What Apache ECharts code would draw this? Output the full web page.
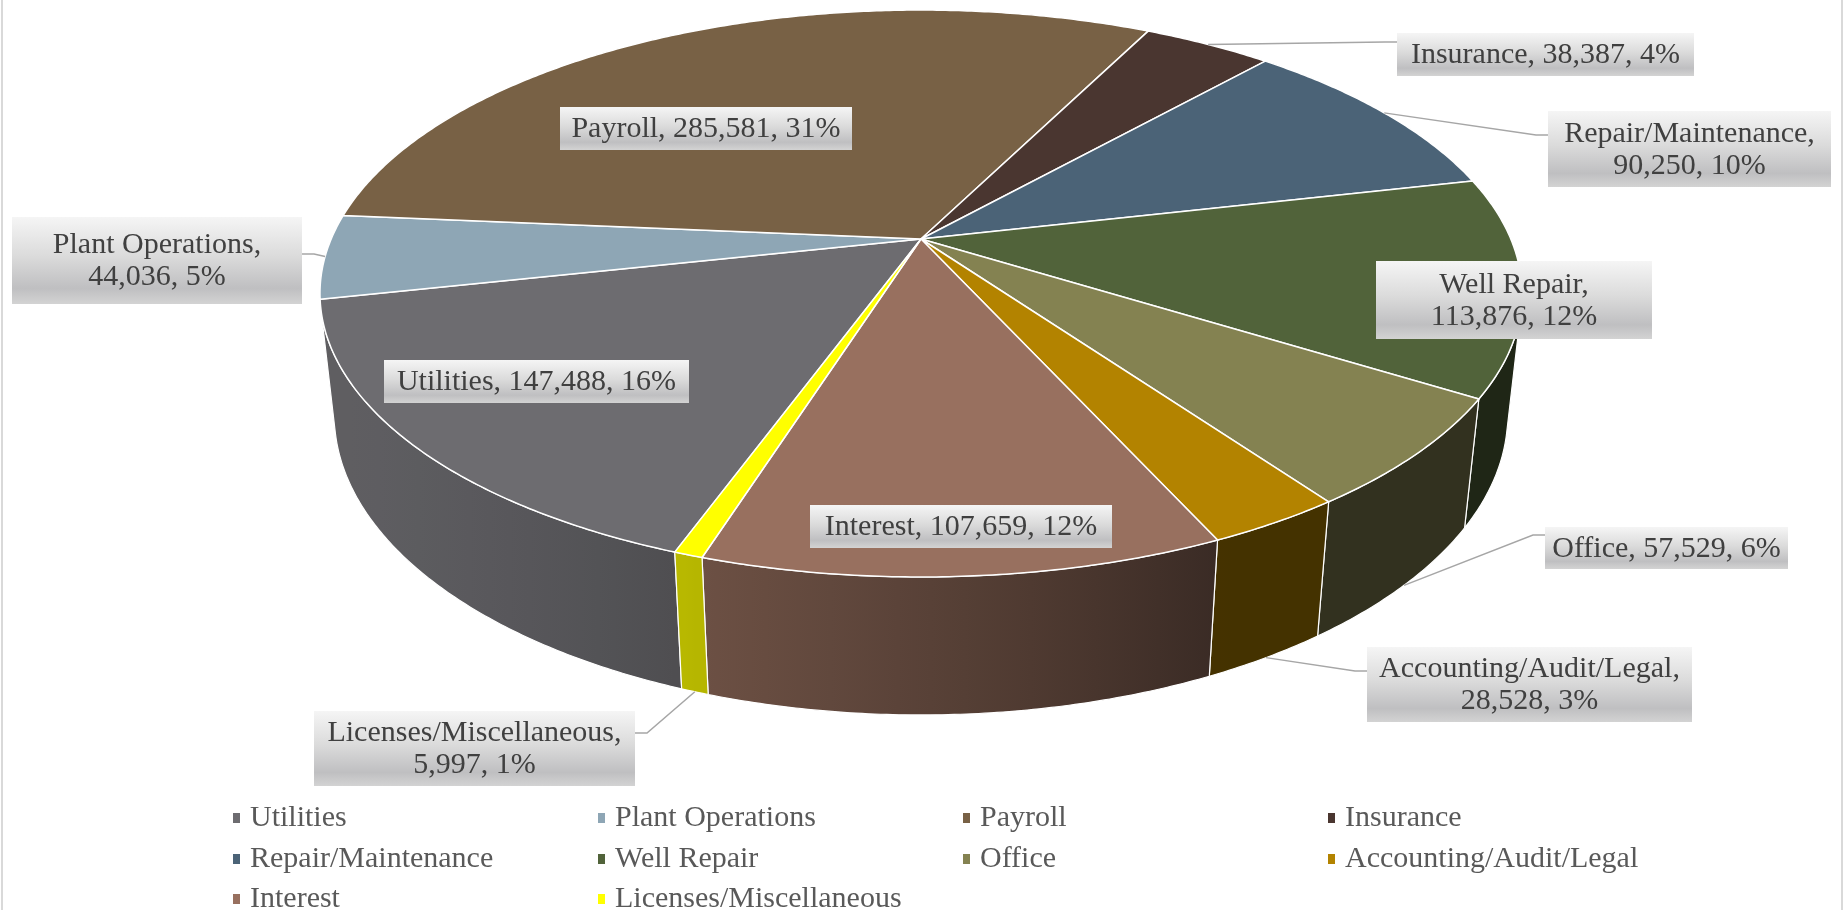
<!DOCTYPE html>
<html>
<head>
<meta charset="utf-8">
<script src="https://cdn.jsdelivr.net/npm/echarts@6.0.0/dist/echarts.min.js"></script>
<style>
  body { margin: 0; background: #fff; }
  #main { width: 1845px; height: 910px; }
</style>
</head>
<body>
<div id="main"></div>
<script>
// data
const categories = ["Utilities", "Plant Operations", "Payroll", "Insurance", "Repair/Maintenance",
  "Well Repair", "Office", "Accounting/Audit/Legal", "Interest", "Licenses/Miscellaneous"];
const values = [147488, 44036, 285581, 38387, 90250, 113876, 57529, 28528, 107659, 5997];
const colors = ["#6d6c70", "#8ea6b5", "#786145", "#4a3630", "#4b6377",
  "#51633a", "#848251", "#b38300", "#98705f", "#ffff00"];

// 3d view of the pie (perspective camera)
const view = { cx: 921, cy: 239, f: 2719, d: 4.61, tilt: 27.57, depth: 0.2346, start: 200 };
const fontFamily = "Liberation Serif";

// label boxes, like excel's moved data labels
const labelLayout = {
  "Utilities": { x: 384, y: 360, w: 305, h: 43 },
  "Plant Operations": { x: 12, y: 217, w: 290, h: 87, two: true, side: "right", ly: 254 },
  "Payroll": { x: 560, y: 107, w: 292, h: 43 },
  "Insurance": { x: 1397, y: 33, w: 297, h: 43, side: "left", ly: 42 },
  "Repair/Maintenance": { x: 1548, y: 111, w: 283, h: 76, two: true, side: "left", ly: 135 },
  "Well Repair": { x: 1376, y: 261, w: 276, h: 78, two: true },
  "Office": { x: 1545, y: 527, w: 243, h: 42, side: "left", ly: 535 },
  "Accounting/Audit/Legal": { x: 1367, y: 647, w: 325, h: 75, two: true, side: "left", ly: 671 },
  "Interest": { x: 810, y: 505, w: 302, h: 43 },
  "Licenses/Miscellaneous": { x: 314, y: 711, w: 321, h: 75, two: true, side: "right", ly: 733 },
};
// legend grid: 4 columns, 3 rows
const legendCols = [228, 593, 958, 1323];
const legendRows = [798, 839, 879];

const rad = Math.PI / 180;
const sinT = Math.sin(view.tilt * rad);
const cosT = Math.cos(view.tilt * rad);

function proj(theta, r, y) {
  let t = theta * rad;
  let x = r * Math.sin(t);
  let z = r * Math.cos(t);
  let v = z * sinT + y * cosT;
  let w = view.d + z * cosT - y * sinT;
  return [view.cx + view.f * x / w, view.cy - view.f * v / w];
}

const total = values.reduce((a, b) => a + b, 0);
let slices = [];
let acc = view.start;
for (let i = 0; i < values.length; i++) {
  let span = values[i] / total * 360;
  slices.push({ a: acc, b: acc + span });
  acc += span;
}

function shade(hex, k) {
  let n = parseInt(hex.slice(1), 16);
  let r = Math.round(((n >> 16) & 255) * k);
  let g = Math.round(((n >> 8) & 255) * k);
  let b = Math.round((n & 255) * k);
  return "rgb(" + r + "," + g + "," + b + ")";
}

function light(theta) {
  return 0.38 + 0.49 * Math.max(0, Math.cos((theta - 245) * rad));
}

// visible part of the side wall
const visA = Math.acos(-1 / (view.d * cosT)) / rad;
const visB = 360 - visA;

function renderTop(i) {
  return function () {
    let s = slices[i];
    let pts = [proj(0, 0, 0)];
    let n = Math.max(4, Math.ceil((s.b - s.a) / 0.5));
    for (let k = 0; k <= n; k++) {
      pts.push(proj(s.a + (s.b - s.a) * k / n, 1, 0));
    }
    return {
      type: "polygon",
      shape: { points: pts },
      style: { fill: colors[i], stroke: "#ffffff", lineWidth: 1.5, lineJoin: "round" },
    };
  };
}

function renderWall(params) {
  let i = params.dataIndex;
  let s = slices[i];
  let children = [];
  for (let shift of [0, -360]) {
    let lo = Math.max(s.a + shift, visA);
    let hi = Math.min(s.b + shift, visB);
    if (hi <= lo) continue;
    let n = Math.max(2, Math.ceil((hi - lo) / 0.5));
    let top = [];
    let bottom = [];
    for (let k = 0; k <= n; k++) {
      let t = lo + (hi - lo) * k / n;
      top.push(proj(t, 1, 0));
      bottom.push(proj(t, 1, -view.depth));
    }
    let pts = top.concat(bottom.reverse());
    let xr = proj(lo, 1, 0)[0];
    let xl = proj(hi, 1, 0)[0];
    let stops = [];
    let m = 8;
    for (let k = 0; k <= m; k++) {
      let t = hi - (hi - lo) * k / m;
      let x = proj(t, 1, 0)[0];
      let off = xr > xl ? (x - xl) / (xr - xl) : 0;
      stops.push({ offset: Math.min(1, Math.max(0, off)), color: shade(colors[i], light(t)) });
    }
    stops.sort((p, q) => p.offset - q.offset);
    children.push({
      type: "polygon",
      shape: { points: pts },
      style: {
        fill: new echarts.graphic.LinearGradient(xl, 0, xr, 0, stops, true),
        stroke: "#ffffff",
        lineWidth: 1.2,
        lineJoin: "round",
      },
    });
  }
  return { type: "group", children: children };
}

function fmt(v) {
  return v.toLocaleString("en-US");
}

function renderLabel(params, api) {
  let i = params.dataIndex;
  let name = categories[i];
  let box = labelLayout[name];
  let val = api.value(0);
  let pct = Math.round(val / total * 100);
  let text = box.two ? name + ",\n" + fmt(val) + ", " + pct + "%" : name + ", " + fmt(val) + ", " + pct + "%";
  let children = [];
  if (box.side) {
    let s = slices[i];
    let mid = (s.a + s.b) / 2;
    let yy = Math.cos(mid * rad) < -0.3 ? -view.depth : 0;
    let anchor = proj(mid, 1, yy);
    let edge = box.side === "left" ? box.x : box.x + box.w;
    let elbow = box.side === "left" ? edge - 12 : edge + 12;
    children.push({
      type: "polyline",
      shape: { points: [anchor, [elbow, box.ly], [edge, box.ly]] },
      style: { stroke: "#a6a6a6", lineWidth: 1.5, fill: null },
    });
  }
  children.push({
    type: "rect",
    shape: { x: box.x, y: box.y, width: box.w, height: box.h },
    style: {
      fill: new echarts.graphic.LinearGradient(0, 0, 0, 1, [
        { offset: 0, color: "#f5f5f5" },
        { offset: 0.45, color: "#dbdbdb" },
        { offset: 0.82, color: "#bfbfc1" },
        { offset: 1, color: "#d3d3d3" },
      ]),
    },
  });
  children.push({
    type: "text",
    style: {
      text: text,
      x: box.x + box.w / 2,
      y: box.y + box.h / 2 + 1,
      align: "center",
      verticalAlign: "middle",
      font: "30px " + fontFamily,
      lineHeight: 32,
      fill: "#404040",
    },
  });
  return { type: "group", children: children };
}

let series = [];
series.push({
  type: "custom",
  name: "walls",
  coordinateSystem: "none",
  z: 1,
  silent: true,
  data: values,
  renderItem: renderWall,
});
for (let i = 0; i < categories.length; i++) {
  series.push({
    type: "custom",
    name: categories[i],
    coordinateSystem: "none",
    z: 2,
    itemStyle: { color: colors[i] },
    data: [values[i]],
    renderItem: renderTop(i),
  });
}
series.push({
  type: "custom",
  name: "labels",
  coordinateSystem: "none",
  z: 5,
  silent: true,
  data: values,
  renderItem: renderLabel,
});

// one legend per item so the columns line up like excel's
let legends = [];
for (let i = 0; i < categories.length; i++) {
  legends.push({
    data: [categories[i]],
    left: legendCols[i % 4],
    top: legendRows[Math.floor(i / 4)],
    icon: "rect",
    itemWidth: 7,
    itemHeight: 10,
    itemGap: 0,
    selectedMode: false,
    textStyle: { fontFamily: fontFamily, fontSize: 30, color: "#595959", padding: [0, 0, 0, 5] },
  });
}

let myChart = echarts.init(document.getElementById("main"));
let option = {
  animation: false,
  backgroundColor: "#ffffff",
  legend: legends,
  graphic: [
    {
      type: "rect",
      silent: true,
      shape: { x: 2, y: -10, width: 1840, height: 940 },
      style: { fill: "none", stroke: "#d9d9d9", lineWidth: 2 },
    },
  ],
  series: series,
};
myChart.setOption(option);
</script>
</body>
</html>
